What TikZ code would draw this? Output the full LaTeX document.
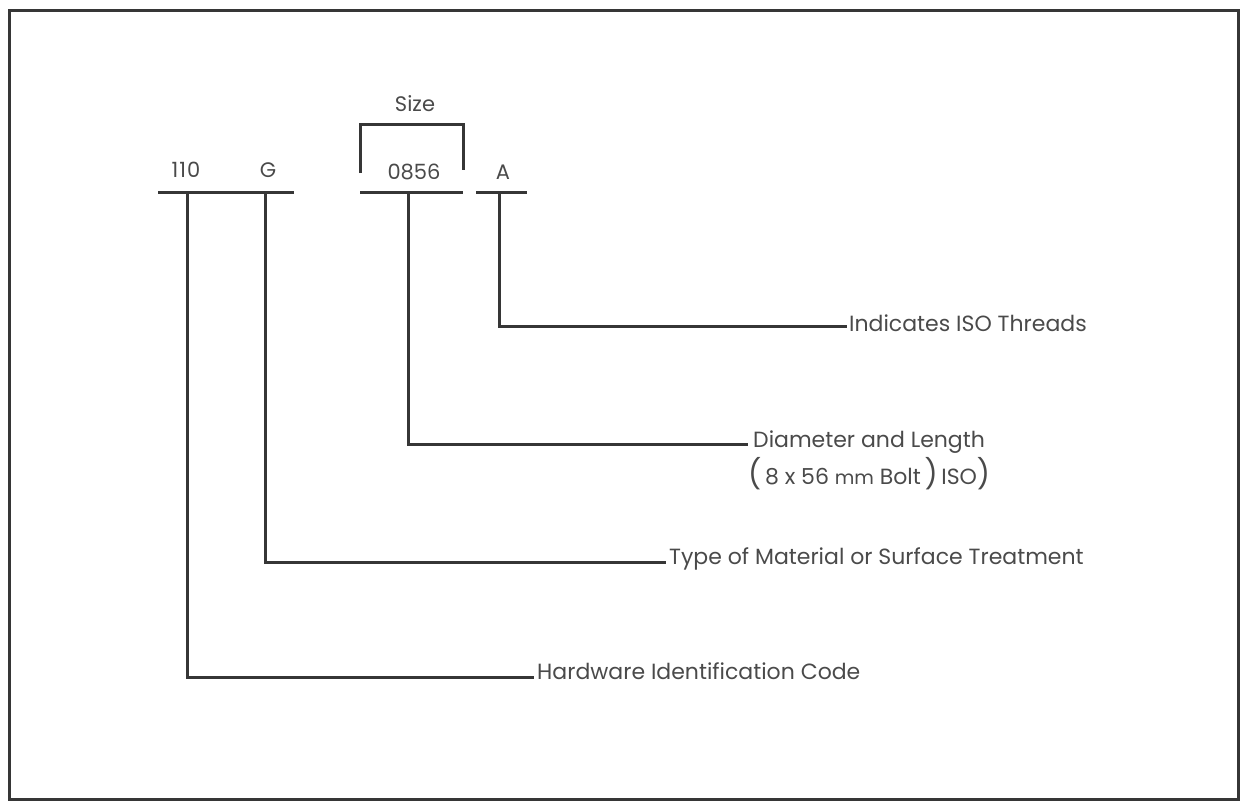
\documentclass[tikz,border=0pt]{standalone}
\usepackage{fontspec}
\setmainfont{Poppins}
\definecolor{ink}{HTML}{363636}
\definecolor{txt}{HTML}{4A4A4A}
\begin{document}
\begin{tikzpicture}[x=1pt,y=-1pt,
  ln/.style={draw=ink,line width=3pt},
  frm/.style={draw=ink,line width=3pt},
  code/.style={text=txt,font=\fontsize{21}{24}\selectfont,inner sep=0pt,anchor=base},
  lab/.style={text=txt,font=\fontsize{22}{26}\selectfont,anchor=base west,inner sep=0pt}]
\useasboundingbox (0,0) rectangle (1244,803);
\draw[frm] (9,10) rectangle (1238,799);
% codes
\node[code] (c110) at (186,177) {1\kern1pt1\kern1pt0};
\node[code] (cG) at (268,177) {G};
\node[code] (c0856) at (414,179) {0856};
\node[code] (cA) at (503,179) {A};
\node[code] (size) at (415,111) {Size};
% underlines
\coordinate (u1a) at (158,192); \coordinate (u1b) at (294,192);
\coordinate (u2a) at (360,192); \coordinate (u2b) at (463,192);
\coordinate (u3a) at (476,192); \coordinate (u3b) at (527,192);
\draw[ln] (u1a) -- (u1b);
\draw[ln] (u2a) -- (u2b);
\draw[ln] (u3a) -- (u3b);
% bracket
\coordinate (bl) at (360,173); \coordinate (br) at (463,170);
\coordinate (bt) at (411,124);
\draw[ln] (bl) |- (bt) -| (br);
% leader taps
\coordinate (t110) at (187,192);
\coordinate (tG) at (265,192);
\coordinate (t0856) at (408,192);
\coordinate (tA) at (499,192);
% labels
\node[lab] (lA) at (849,331) {Indicates ISO Threads};
\node[lab] (l0856) at (753,447) {Diameter and Length};
\node[lab] (l0856b) at (748,484) {{\fontsize{29}{29}\selectfont(}\,8 x 56 {\fontsize{19}{19}\selectfont mm} Bolt\,{\fontsize{29}{29}\selectfont)}\,ISO{\fontsize{29}{29}\selectfont)}};
\node[lab] (lG) at (669,564) {Type of Material or Surface Treatment};
\node[lab] (l110) at (537,679) {Hardware Identification Code};
% connector ends
\coordinate (eA) at (847,326);
\coordinate (e0856) at (748,444);
\coordinate (eG) at (666,562);
\coordinate (e110) at (534,677);
% connectors
\draw[ln] (tA) |- (eA);
\draw[ln] (t0856) |- (e0856);
\draw[ln] (tG) |- (eG);
\draw[ln] (t110) |- (e110);
\end{tikzpicture}
\end{document}
